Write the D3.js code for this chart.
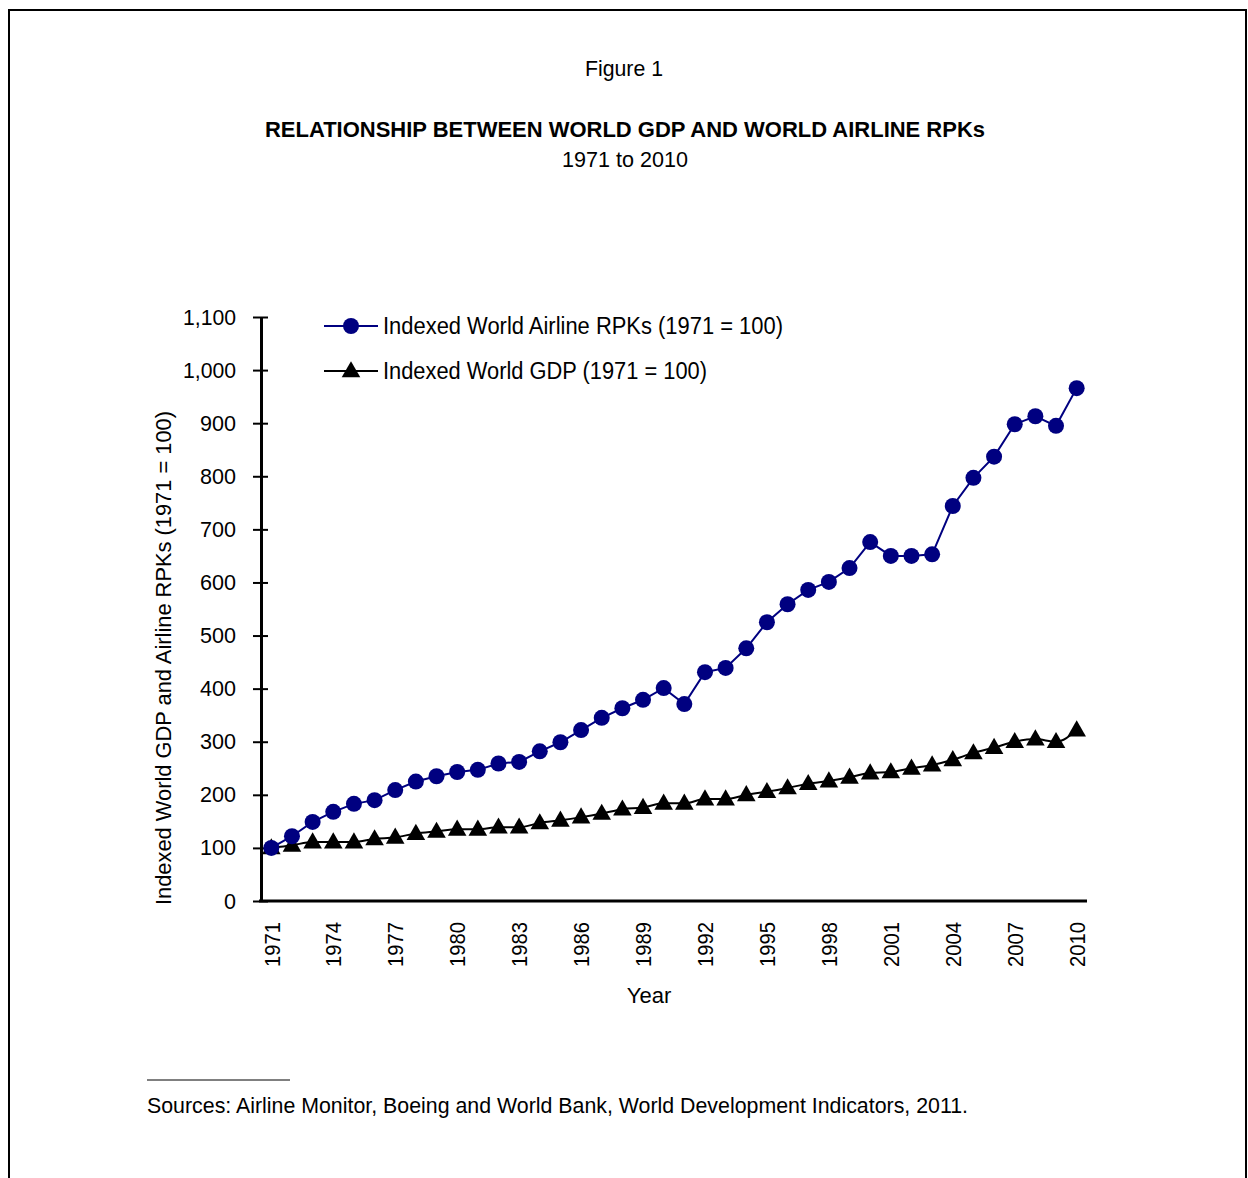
<!DOCTYPE html>
<html>
<head>
<meta charset="utf-8">
<script src="https://cdn.jsdelivr.net/npm/d3@7"></script>
<style>
  body { margin: 0; background: #fff; }
  text { font-family: "Liberation Sans", Arial, sans-serif; fill: #000; }
</style>
</head>
<body>
<svg id="chart" width="1248" height="1178"></svg>
<script>
// data
var years = d3.range(1971, 2011);
var rpk = [100, 122, 149, 168, 183, 190, 209, 225, 235, 243,
           247, 259, 262, 282, 299, 322, 345, 363, 379, 401,
           371, 431, 439, 476, 525, 559, 586, 601, 627, 676,
           650, 650, 653, 744, 797, 837, 898, 913, 895, 966];
var gdp = [100, 105, 111, 111, 111, 117, 120, 127, 131, 135,
           135, 139, 139, 147, 152, 158, 165, 173, 176, 184,
           184, 192, 192, 200, 206, 213, 221, 226, 233, 241,
           243, 250, 256, 266, 279, 289, 300, 305, 300, 322];
var yTicks = d3.range(0, 1101, 100);
var xLabels = d3.range(1971, 2011, 3);
var seriesNames = ["Indexed World Airline RPKs (1971 = 100)", "Indexed World GDP (1971 = 100)"];

var svg = d3.select("#chart");

// outer frame
svg.append("rect")
    .attr("x", 9).attr("y", 10)
    .attr("width", 1237).attr("height", 1200)
    .attr("fill", "none").attr("stroke", "#000").attr("stroke-width", 2);

// titles
svg.append("text").attr("x", 624).attr("y", 76).attr("text-anchor", "middle")
    .style("font-size", "22px")
    .attr("textLength", 78).attr("lengthAdjust", "spacingAndGlyphs")
    .text("Figure 1");
svg.append("text").attr("x", 625).attr("y", 137).attr("text-anchor", "middle")
    .style("font-size", "22px").style("font-weight", "bold")
    .attr("textLength", 720).attr("lengthAdjust", "spacingAndGlyphs")
    .text("RELATIONSHIP BETWEEN WORLD GDP AND WORLD AIRLINE RPKs");
svg.append("text").attr("x", 625).attr("y", 167).attr("text-anchor", "middle")
    .style("font-size", "22px")
    .attr("textLength", 126).attr("lengthAdjust", "spacingAndGlyphs")
    .text("1971 to 2010");

// scales
var x = d3.scalePoint()
    .domain(years)
    .range([261, 1087])
    .padding(0.5);
var y = d3.scaleLinear()
    .domain([0, 1100])
    .range([901, 317]);

// y axis, ticks cross the axis line
var fmt = d3.format(",");
var yAxis = svg.append("g")
    .attr("transform", "translate(261,0)")
    .call(d3.axisLeft(y).tickValues(yTicks).tickSize(8).tickSizeOuter(0)
        .tickFormat(fmt));
yAxis.select(".domain").attr("stroke-width", 3);
yAxis.selectAll(".tick line").attr("x1", -8).attr("x2", 7).attr("stroke-width", 2);
yAxis.selectAll(".tick text")
    .attr("x", -25)
    .style("font-family", "Liberation Sans, Arial, sans-serif")
    .style("font-size", "22px")
    .attr("textLength", function(d) { return d >= 1000 ? 53 : (d > 0 ? 36 : 12); })
    .attr("lengthAdjust", "spacingAndGlyphs");

// x axis (labels only, every third year)
var xAxis = svg.append("g")
    .attr("transform", "translate(0,901)")
    .call(d3.axisBottom(x).tickValues(xLabels).tickSize(0).tickSizeOuter(0));
xAxis.select(".domain").attr("stroke-width", 3).attr("d", "M259,0H1087");
xAxis.selectAll(".tick text")
    .style("font-family", "Liberation Sans, Arial, sans-serif")
    .style("font-size", "22px")
    .style("text-anchor", "end")
    .attr("transform", "rotate(-90)")
    .attr("x", -21)
    .attr("y", 0)
    .attr("dy", "0.35em")
    .attr("textLength", 45)
    .attr("lengthAdjust", "spacingAndGlyphs");

// axis titles
svg.append("text").attr("x", 649).attr("y", 1003).attr("text-anchor", "middle")
    .style("font-size", "22px").text("Year");
svg.append("text")
    .attr("transform", "translate(171,658) rotate(-90)")
    .attr("text-anchor", "middle")
    .style("font-size", "22px")
    .attr("textLength", 494).attr("lengthAdjust", "spacingAndGlyphs")
    .text("Indexed World GDP and Airline RPKs (1971 = 100)");

// lines
svg.append("path").attr("d", d3.line()
      .x(function(d, i) { return x(years[i]); })
      .y(function(d) { return y(d); })(rpk))
    .attr("fill", "none").attr("stroke", "#000080").attr("stroke-width", 2);
svg.append("path").attr("d", d3.line()
      .curve(d3.curveMonotoneX)
      .x(function(d, i) { return x(years[i]); })
      .y(function(d) { return y(d); })(gdp))
    .attr("fill", "none").attr("stroke", "#000").attr("stroke-width", 2);

// markers
var tri = d3.symbol().type(d3.symbolTriangle).size(150);
svg.selectAll(".gdp").data(gdp).enter().append("path")
    .attr("class", "gdp")
    .attr("d", tri)
    .attr("transform", function(d, i) { return "translate(" + x(years[i]) + "," + (y(d) + 1) + ")"; })
    .attr("fill", "#000");
svg.selectAll(".rpk").data(rpk).enter().append("circle")
    .attr("class", "rpk")
    .attr("cx", function(d, i) { return x(years[i]); })
    .attr("cy", function(d) { return y(d); })
    .attr("r", 8)
    .attr("fill", "#000080");

// legend
var leg = svg.append("g");
[0, 1].forEach(function(k) {
  var ly = 326 + k * 45;
  leg.append("line").attr("x1", 324).attr("x2", 378).attr("y1", ly).attr("y2", ly)
      .attr("stroke", k === 0 ? "#000080" : "#000").attr("stroke-width", 2);
  if (k === 0) {
    leg.append("circle").attr("cx", 351).attr("cy", ly).attr("r", 8).attr("fill", "#000080");
  } else {
    leg.append("path").attr("d", tri).attr("transform", "translate(351," + (ly + 1) + ")").attr("fill", "#000");
  }
  leg.append("text").attr("x", 383).attr("y", ly + 8)
      .style("font-size", "23px")
      .attr("textLength", k === 0 ? 400 : 324).attr("lengthAdjust", "spacingAndGlyphs")
      .text(seriesNames[k]);
});

// source note
svg.append("line").attr("x1", 147).attr("x2", 290).attr("y1", 1080).attr("y2", 1080)
    .attr("stroke", "#000").attr("stroke-width", 1);
svg.append("text").attr("x", 147).attr("y", 1113)
    .style("font-size", "22px")
    .attr("textLength", 821).attr("lengthAdjust", "spacingAndGlyphs")
    .text("Sources:  Airline Monitor, Boeing and World Bank, World Development Indicators, 2011.");
</script>
</body>
</html>
